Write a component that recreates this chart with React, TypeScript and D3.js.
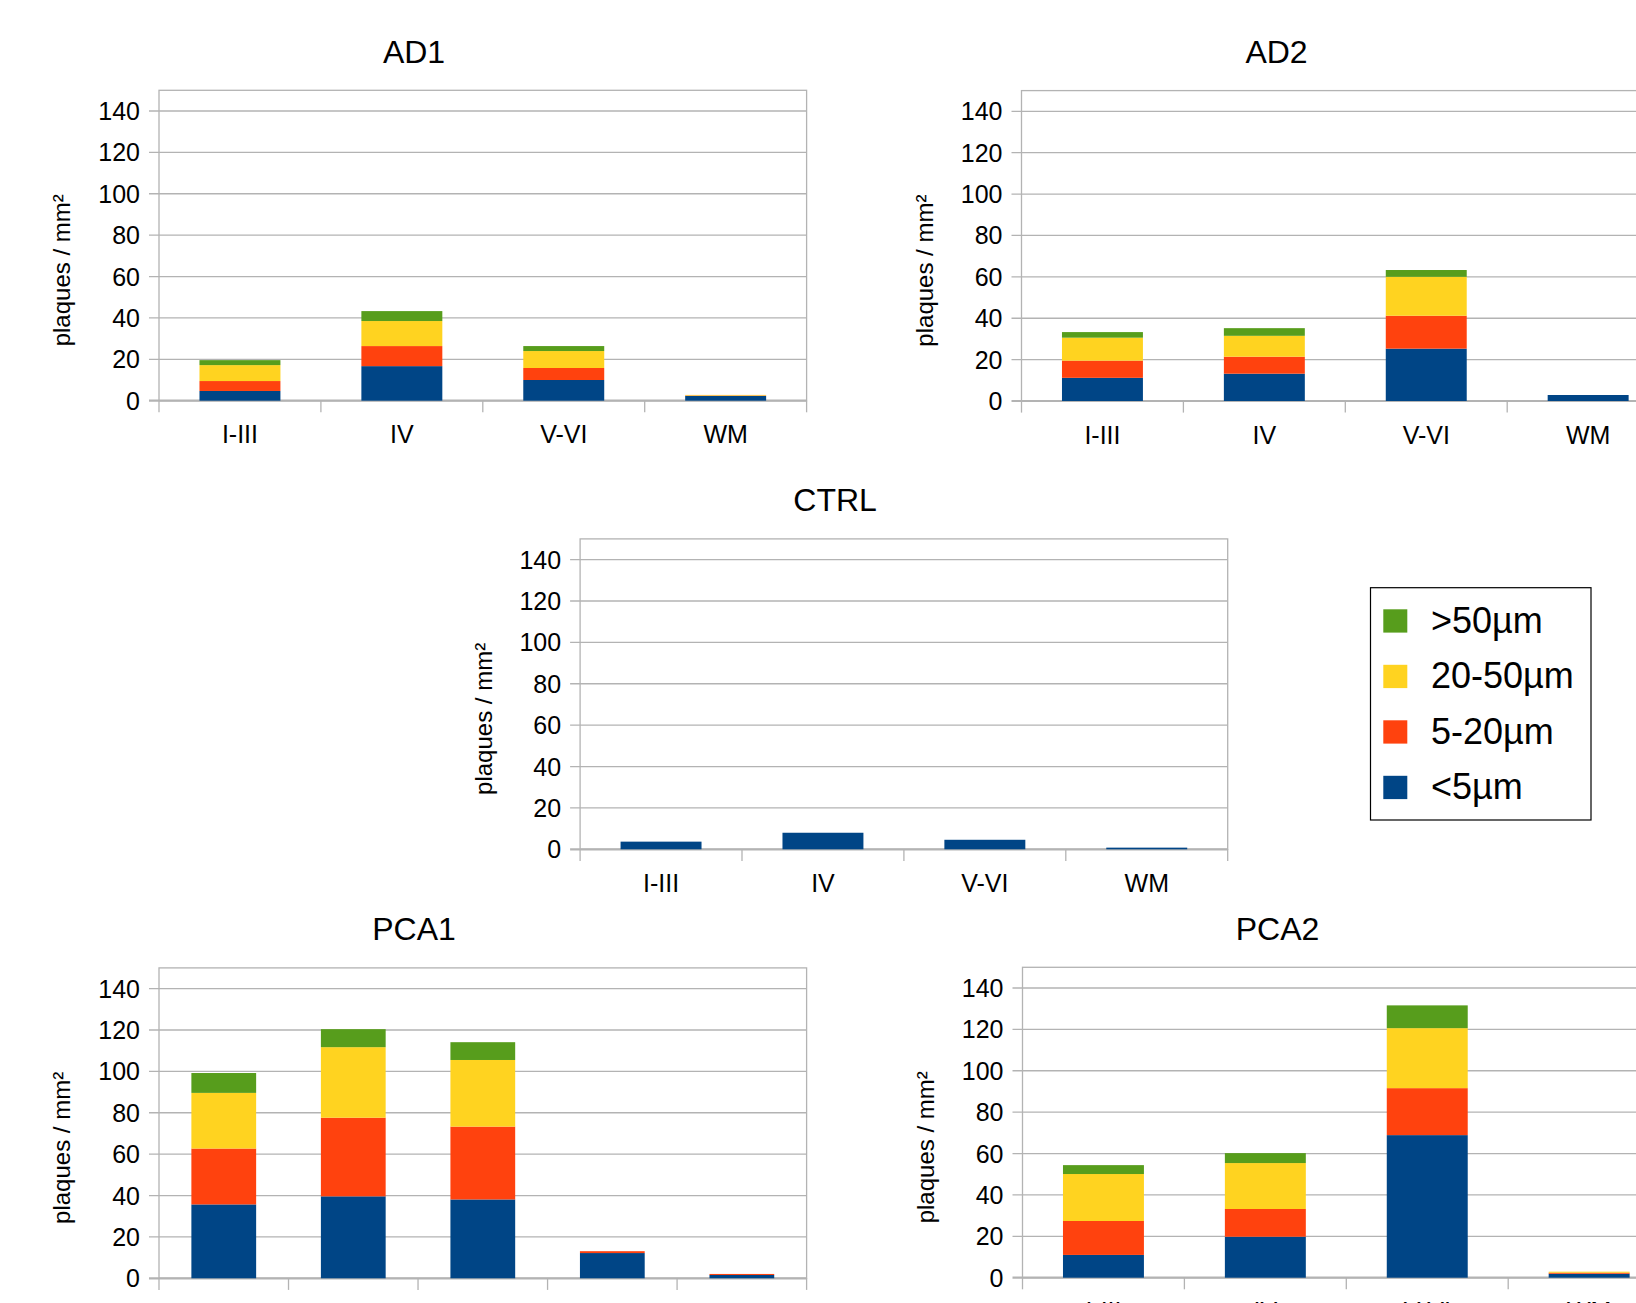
import React from 'react';
import * as d3 from 'd3';

// size classes, bottom to top of each stack
const sizeClasses = ['<5µm', '5-20µm', '20-50µm', '>50µm'];
const colors = ['#004586', '#ff420e', '#ffd320', '#579d1c'];
const legendOrder = ['>50µm', '20-50µm', '5-20µm', '<5µm'];

const layers = ['I-III', 'IV', 'V-VI', 'WM'];
const pca1Layers = ['', ' ', '  ', '   ', '    '];
const yTicks = [0, 20, 40, 60, 80, 100, 120, 140];

const ad1Small = [4.7, 16.7, 10.0, 2.3];
const ad1Mid = [4.8, 9.7, 5.8, 0.2];
const ad1Large = [7.7, 12.1, 8.2, 0.3];
const ad1Xl = [2.4, 4.8, 2.4, 0];

const ad2Small = [11.2, 13.2, 25.3, 2.9];
const ad2Mid = [8.3, 8.2, 15.9, 0];
const ad2Large = [11.1, 10.1, 18.8, 0];
const ad2Xl = [2.7, 3.7, 3.3, 0];

const ctrlSmall = [3.7, 8.0, 4.6, 0.8];
const ctrlMid = [0, 0, 0, 0];
const ctrlLarge = [0, 0, 0, 0];
const ctrlXl = [0, 0, 0, 0];

const pca1Small = [35.7, 39.6, 38.1, 12.2, 1.6];
const pca1Mid = [27.0, 38.0, 35.2, 0.9, 0.5];
const pca1Large = [26.9, 34.1, 32.2, 0, 0];
const pca1Xl = [9.6, 8.7, 8.6, 0, 0];

const pca2Small = [11.0, 19.8, 68.9, 1.9];
const pca2Mid = [16.4, 13.4, 22.7, 0.5];
const pca2Large = [22.7, 22.2, 29.0, 0.5];
const pca2Xl = [4.3, 4.8, 11.0, 0];

const FONT = '"Liberation Sans", Arial, sans-serif';
const GRID = '#b3b3b3';

const plotW = 647.6;
const plotH = 310.4;

function buildRows(cats, series) {
	return cats.map((c, i) => {
		const row = { cat: c };
		sizeClasses.forEach((s, k) => {
			row[s] = series[k][i];
		});
		return row;
	});
}

function BarChart({ title, cats, series, left, top }) {
	const zero = top + plotH;
	const rows = buildRows(cats, series);
	const stacked = d3.stack().keys(sizeClasses)(rows);

	const x = d3
		.scaleBand()
		.domain(cats)
		.range([left, left + plotW])
		.paddingInner(0.5)
		.paddingOuter(0.25);
	const y = d3.scaleLinear().domain([0, 150]).range([zero, top]);
	const step = x.step();

	return (
		<g>
			<text x={left + 255} y={top - 27.6} textAnchor="middle" fontSize={32} fontFamily={FONT} fill="#000">
				{title}
			</text>
			<text
				transform={`translate(${left - 97},${top + 180}) rotate(-90)`}
				textAnchor="middle"
				dy="0.35em"
				fontSize={24}
				fontFamily={FONT}
				fill="#000"
			>
				plaques / mm²
			</text>
			<rect x={left} y={top} width={plotW} height={plotH} fill="none" stroke={GRID} strokeWidth={1.3} />
			{yTicks.map(t => (
				<g key={t}>
					<line x1={left - 10} x2={left + plotW} y1={y(t)} y2={y(t)} stroke={GRID} strokeWidth={t === 0 ? 2.2 : 1.3} />
					<text x={left - 19} y={y(t)} dy="0.36em" textAnchor="end" fontSize={25} fontFamily={FONT} fill="#000">
						{t}
					</text>
				</g>
			))}
			{cats.map((c, i) => (
				<line
					key={'t' + i}
					x1={left + i * step}
					x2={left + i * step}
					y1={zero}
					y2={zero + 11.6}
					stroke={GRID}
					strokeWidth={1.3}
				/>
			))}
			<line x1={left + plotW} x2={left + plotW} y1={zero} y2={zero + 11.6} stroke={GRID} strokeWidth={1.3} />
			{cats.map(c => (
				<text
					key={'l' + c}
					x={x(c) + x.bandwidth() / 2}
					y={zero + 42.6}
					textAnchor="middle"
					fontSize={25}
					fontFamily={FONT}
					fill="#000"
				>
					{c.trim()}
				</text>
			))}
			{stacked.map((layer, k) => (
				<g key={layer.key} fill={colors[k]}>
					{layer.map(d => (
						<rect
							key={d.data.cat}
							x={x(d.data.cat)}
							width={x.bandwidth()}
							y={y(d[1])}
							height={Math.max(0, y(d[0]) - y(d[1]))}
						/>
					))}
				</g>
			))}
		</g>
	);
}

function Legend() {
	const lx = 1370.5;
	const ly = 587.7;
	return (
		<g>
			<rect x={lx} y={ly} width={220.5} height={232.3} fill="#fff" stroke="#000" strokeWidth={1.2} />
			{legendOrder.map((name, i) => {
				const k = sizeClasses.indexOf(name);
				const sy = 609.3 + i * 55.5;
				return (
					<g key={name}>
						<rect x={1383.3} y={sy} width={24} height={23.3} fill={colors[k]} />
						<text x={1431} y={sy + 23.3} fontSize={36} fontFamily={FONT} fill="#000">
							{name}
						</text>
					</g>
				);
			})}
		</g>
	);
}

export default function App() {
	return (
		<svg
			width={1636}
			height={1303}
			style={{ position: 'absolute', left: 0, top: 0, background: '#fff' }}
		>
			<rect width={1636} height={1303} fill="#fff" />
			<BarChart title="AD1" cats={layers} series={[ad1Small, ad1Mid, ad1Large, ad1Xl]} left={159} top={90.3} />
			<BarChart title="AD2" cats={layers} series={[ad2Small, ad2Mid, ad2Large, ad2Xl]} left={1021.5} top={90.6} />
			<BarChart title="CTRL" cats={layers} series={[ctrlSmall, ctrlMid, ctrlLarge, ctrlXl]} left={580.1} top={538.9} />
			<BarChart title="PCA1" cats={pca1Layers} series={[pca1Small, pca1Mid, pca1Large, pca1Xl]} left={159} top={967.9} />
			<BarChart title="PCA2" cats={layers} series={[pca2Small, pca2Mid, pca2Large, pca2Xl]} left={1022.5} top={967.3} />
			<Legend />
		</svg>
	);
}
